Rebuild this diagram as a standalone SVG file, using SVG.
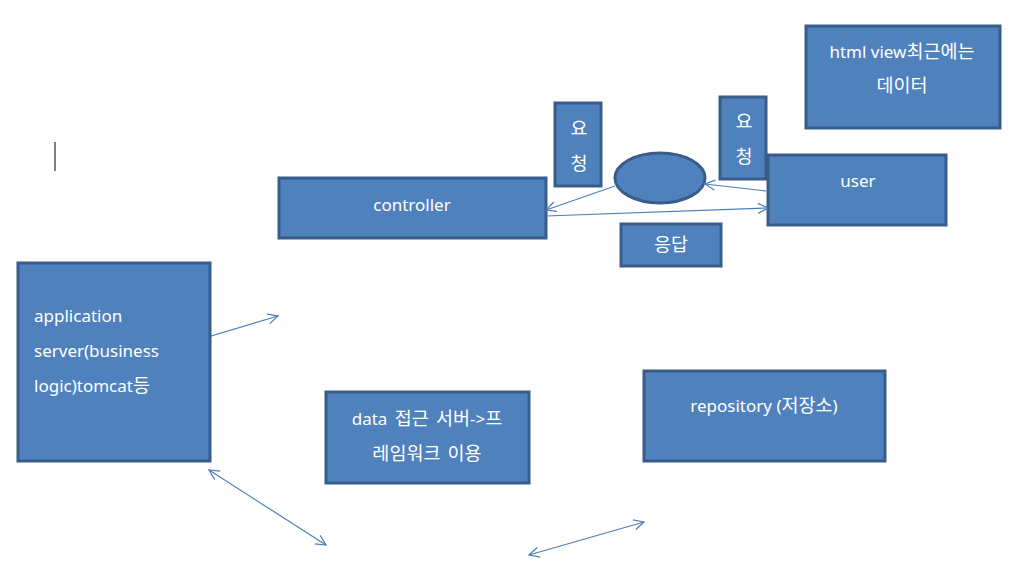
<svg xmlns="http://www.w3.org/2000/svg" width="1024" height="584" viewBox="0 0 1024 584">
<defs>
<style>
.box{fill:#4F81BD;stroke:#385D8A;stroke-width:3}
.t{font-family:"Noto Sans","Noto Sans CJK KR",sans-serif;font-size:17px;fill:#FFFFFF}
.k{font-family:"Noto Sans CJK KR",sans-serif;font-size:18.5px}
.c{text-anchor:middle}
.ln{stroke:#4A7EBB;stroke-width:1.2;fill:none}
</style>
<marker id="ah" viewBox="0 0 12 12" refX="11" refY="6" markerWidth="12" markerHeight="12" markerUnits="userSpaceOnUse" orient="auto-start-reverse">
<path d="M1,1 L11,6 L1,11" fill="none" stroke="#4A7EBB" stroke-width="1.2"/>
</marker>
</defs>
<rect width="1024" height="584" fill="#FFFFFF"/>
<line x1="55" y1="142" x2="55" y2="171" stroke="#000000" stroke-width="1"/>
<g id="connectors-back">
<line class="ln" x1="97" y1="370" x2="278" y2="316" marker-start="url(#ah)" marker-end="url(#ah)"/>
</g>
<g id="application"><rect class="box" x="18" y="263" width="192" height="198"/>
<text class="t" x="34" y="322">application</text>
<text class="t" x="34" y="357">server(business</text>
<text class="t" x="34" y="392">logic)tomcat<tspan class="k">등</tspan></text></g>
<g id="controller"><rect class="box" x="279" y="178" width="267" height="60"/>
<text class="t c" x="412" y="211">controller</text></g>
<g id="req1"><rect class="box" x="555" y="103" width="46" height="83"/>
<text class="t k c" x="579" y="135">요</text>
<text class="t k c" x="579" y="170">청</text></g>
<g id="circle"><ellipse class="box" cx="660" cy="178" rx="45" ry="25"/></g>
<g id="req2"><rect class="box" x="720" y="97" width="46" height="82"/>
<text class="t k c" x="744" y="128">요</text>
<text class="t k c" x="744" y="163">청</text></g>
<g id="user"><rect class="box" x="768" y="155" width="178" height="70"/>
<text class="t c" x="858" y="187">user</text></g>
<g id="html"><rect class="box" x="806" y="26" width="194" height="102"/>
<text class="t c" x="902" y="58">html view<tspan class="k">최근에는</tspan></text>
<text class="t k c" x="902" y="92">데이터</text></g>
<g id="resp"><rect class="box" x="621" y="224" width="100" height="42"/>
<text class="t k c" x="671" y="251">응답</text></g>
<g id="data"><rect class="box" x="326" y="392" width="203" height="91"/>
<text class="t c" x="427" y="425" word-spacing="3">data <tspan class="k">접근 서버</tspan>-&gt;<tspan class="k">프</tspan></text>
<text class="t k c" x="427" y="460" word-spacing="3">레임워크 이용</text></g>
<g id="repository"><rect class="box" x="644" y="371" width="241" height="90"/>
<text class="t c" x="764" y="412">repository (<tspan class="k">저장소</tspan>)</text></g>
<g id="connectors">
<line class="ln" x1="97" y1="370" x2="210" y2="337" opacity="0.35" marker-start="url(#ah)"/>
<line class="ln" x1="615" y1="186" x2="546" y2="210" marker-end="url(#ah)"/>
<line class="ln" x1="766" y1="191" x2="705" y2="184" marker-end="url(#ah)"/>
<line class="ln" x1="546" y1="216" x2="768" y2="208" marker-end="url(#ah)"/>
<line class="ln" x1="209" y1="470" x2="326" y2="545" marker-start="url(#ah)" marker-end="url(#ah)"/>
<line class="ln" x1="529" y1="555" x2="644" y2="522" marker-start="url(#ah)" marker-end="url(#ah)"/>
</g>
</svg>
